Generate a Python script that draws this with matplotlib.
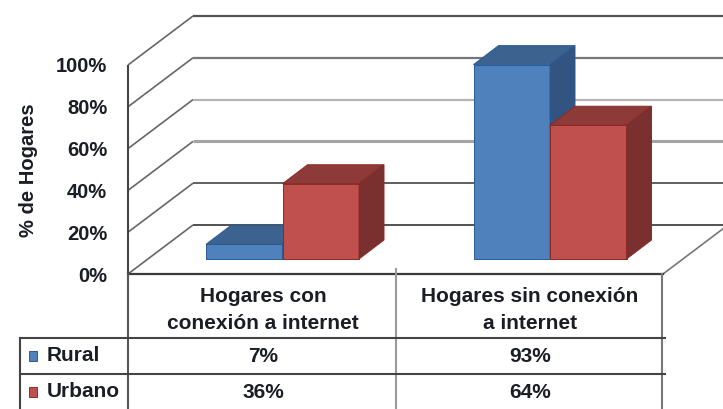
import matplotlib
matplotlib.use("Agg")
import matplotlib.pyplot as plt
from matplotlib.patches import Polygon, Rectangle
from matplotlib.transforms import ScaledTranslation

categories = ["Hogares con\nconexión a internet", "Hogares sin conexión\na internet"]
rural = [7, 93]
urbano = [36, 64]
y_ticks = [0, 20, 40, 60, 80, 100]
y_labels = ["0%", "20%", "40%", "60%", "80%", "100%"]
grid_colors = ["#333333", "#444444", "#a4a4a4", "#b4b4b4", "#777777", "#555555"]
grid_widths = [1.2, 1.2, 2.2, 1.6, 1.6, 1.6]

W, H = 723, 410
TXT = "#1a1d24"
FONT = ["Liberation Sans", "DejaVu Sans"]

# size of one unit in pixels, the front plane of the chart
UX = 267.5
UY = 2.09
WALL_X = 65 / UX
WALL_Y = 49 / UY
LIFT_X = 19.5 / UX
LIFT_Y = 15 / UY
DEPTH_X = 25 / UX
DEPTH_Y = 19 / UY
BAR_W = 76.5 / UX
GAP = 58.5 / UX

plt.rcParams["font.family"] = FONT

fig = plt.figure(figsize=(W / 100, H / 100), dpi=100)
ax = fig.add_axes([128 / W, 1 - 275 / H, 2 * UX / W, 100 * UY / H])
ax.set_xlim(0, 2)
ax.set_ylim(0, 100)
ax.patch.set_alpha(0)
for s in ax.spines.values():
    s.set_visible(False)
ax.set_xticks([])
ax.set_yticks(y_ticks)
ax.set_yticklabels(y_labels, fontsize=14.5, fontweight="bold", color=TXT)
ax.tick_params(axis="y", length=0, pad=15)
# labels sit a little above their gridlines
nudge = ScaledTranslation(0, 1 / 100, fig.dpi_scale_trans)
for lab in ax.get_yticklabels():
    lab.set_transform(lab.get_transform() + nudge)
ax.set_ylabel("% de Hogares", fontsize=14.5, fontweight="bold", color=TXT, labelpad=13)


def edge_line(xs, ys, color, lw):
    ax.plot(xs, ys, color=color, lw=lw, clip_on=False, solid_capstyle="butt", zorder=1)


# back wall and left wall
for t, c, w in zip(y_ticks, grid_colors, grid_widths):
    edge_line([0, WALL_X], [t, t + WALL_Y], "#666666", 1.2)
    edge_line([WALL_X, 2 + WALL_X], [t + WALL_Y, t + WALL_Y], c, w)
edge_line([0, 0], [0, 100], "#444444", 1.5)
edge_line([2, 2 + WALL_X], [0, WALL_Y], "#777777", 1.2)


def bar_3d(x, val, front, top, side, edge):
    y0 = LIFT_Y
    ax.bar(x, val, BAR_W, bottom=y0, align="edge", color=front, edgecolor=edge,
           linewidth=0.7, clip_on=False, zorder=3)
    y1 = y0 + val
    x1 = x + BAR_W
    ax.add_patch(Polygon([(x, y1), (x + DEPTH_X, y1 + DEPTH_Y), (x1 + DEPTH_X, y1 + DEPTH_Y), (x1, y1)],
                         facecolor=top, edgecolor=edge, lw=0.7, clip_on=False, zorder=3))
    ax.add_patch(Polygon([(x1, y0), (x1 + DEPTH_X, y0 + DEPTH_Y), (x1 + DEPTH_X, y1 + DEPTH_Y), (x1, y1)],
                         facecolor=side, edgecolor=edge, lw=0.7, clip_on=False, zorder=3))


for i in range(len(categories)):
    x = i + GAP + LIFT_X
    bar_3d(x, rural[i], "#4f81bd", "#3c6290", "#335480", "#2a5a94")
    bar_3d(x + BAR_W, urbano[i], "#c0504d", "#8e3a38", "#7a302e", "#8a2a27")

# table below the chart, in pixels
tb = fig.add_axes([0, 0, 1, 1])
tb.set_xlim(0, W)
tb.set_ylim(H, 0)
tb.axis("off")
tb.patch.set_alpha(0)

tb.plot([128, 663], [275, 275], color="#3a3a3a", lw=1.6)
tb.plot([128, 128], [275, 410], color="#555555", lw=1.5)
tb.plot([396, 396], [270, 410], color="#9a9a9a", lw=1.5)
tb.plot([662, 662], [275, 410], color="#777777", lw=1.5)
tb.plot([20, 665], [339, 339], color="#444444", lw=1.5)
tb.plot([20, 665], [375, 375], color="#444444", lw=1.5)
tb.plot([20, 20], [339, 410], color="#444444", lw=1.5)

cell_x = [263, 530]
for cx, name in zip(cell_x, categories):
    tb.text(cx, 310, name, ha="center", va="center", fontsize=15, fontweight="bold",
            color=TXT, linespacing=1.5)

rows = [("Rural", rural, "#4f81bd", "#1f497d", 357), ("Urbano", urbano, "#c0504d", "#7a1f1c", 393)]
for name, vals, col, edge, y in rows:
    tb.add_patch(Rectangle((29, y - 5), 8, 10, facecolor=col, edgecolor=edge, lw=0.6))
    tb.text(47, y - 1, name, ha="left", va="center", fontsize=15, fontweight="bold", color=TXT)
    for cx, v in zip(cell_x, vals):
        tb.text(cx, y, f"{v}%", ha="center", va="center", fontsize=15, fontweight="bold", color=TXT)

fig.savefig("out.png", dpi=100)
